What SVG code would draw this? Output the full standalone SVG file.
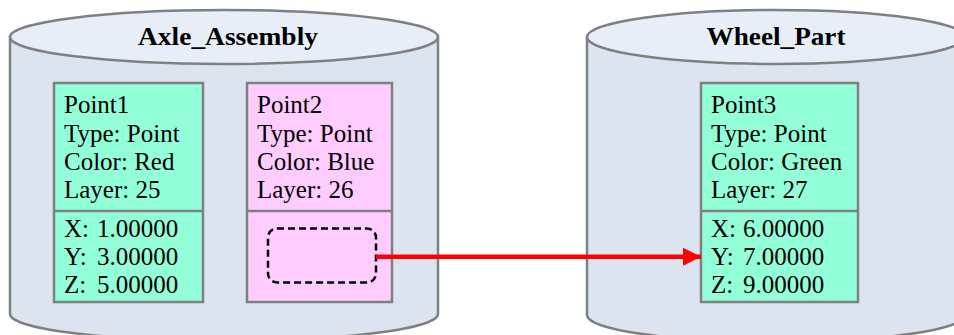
<svg xmlns="http://www.w3.org/2000/svg" width="954" height="335" viewBox="0 0 954 335">
<style>
.cyl{fill:#DCE4F0;stroke:#808080;stroke-width:2.5}
.top{fill:#E8EEF7;stroke:#808080;stroke-width:2.5}
.title{font-family:"Liberation Serif",serif;font-weight:bold;font-size:26px;fill:#000;text-anchor:middle}
.t{font-family:"Liberation Serif",serif;font-size:25px;fill:#000}
.green{fill:#92FFD8;stroke:#808080;stroke-width:2.5}
.pink{fill:#FFCCFF;stroke:#808080;stroke-width:2.5}
.div{stroke:#808080;stroke-width:2.5}
</style>
<defs>
<marker id="ah" markerWidth="18" markerHeight="18" refX="18" refY="9" orient="auto" markerUnits="userSpaceOnUse">
<path d="M0,0 L18,9 L0,18 Z" fill="#FF0000"/>
</marker>
</defs>
<rect width="954" height="335" fill="#FFFFFF"/>
<g id="Axle_Assembly">
<path class="cyl" d="M10,37 L10,314 A214,27 0 0 0 438,314 L438,37 Z"/>
<ellipse class="top" cx="224" cy="37" rx="214" ry="27"/>
<text class="title" x="228" y="45" textLength="180" lengthAdjust="spacingAndGlyphs">Axle_Assembly</text>
</g>
<g id="Wheel_Part">
<path class="cyl" d="M587,37 L587,315 A189,27 0 0 0 965,315 L965,37 Z"/>
<ellipse class="top" cx="776" cy="37" rx="189" ry="27"/>
<text class="title" x="776" y="45" textLength="139" lengthAdjust="spacingAndGlyphs">Wheel_Part</text>
</g>
<g id="Point1">
<rect class="green" x="54" y="83" width="149" height="219"/>
<line class="div" x1="54" y1="211" x2="203" y2="211"/>
<text class="t" x="64" y="113">Point1</text>
<text class="t" x="64" y="141.5">Type: Point</text>
<text class="t" x="64" y="170">Color: Red</text>
<text class="t" x="64" y="198.3">Layer: 25</text>
<text class="t" x="64" y="236.7">X:<tspan x="97">1.00000</tspan></text>
<text class="t" x="64" y="265">Y:<tspan x="97">3.00000</tspan></text>
<text class="t" x="64" y="293.3">Z:<tspan x="97">5.00000</tspan></text>
</g>
<g id="Point2">
<rect class="pink" x="247" y="83" width="145" height="219"/>
<line class="div" x1="247" y1="211" x2="392" y2="211"/>
<text class="t" x="257" y="113">Point2</text>
<text class="t" x="257" y="141.5">Type: Point</text>
<text class="t" x="257" y="170">Color: Blue</text>
<text class="t" x="257" y="198.3">Layer: 26</text>
<rect x="268" y="228.5" width="108" height="54" rx="9" fill="#FFCCFF" stroke="#000" stroke-width="2.5" stroke-dasharray="7,4"/>
</g>
<g id="Point3">
<rect class="green" x="701" y="83" width="157" height="219"/>
<line class="div" x1="701" y1="211" x2="858" y2="211"/>
<text class="t" x="711" y="113">Point3</text>
<text class="t" x="711" y="141.5">Type: Point</text>
<text class="t" x="711" y="170">Color: Green</text>
<text class="t" x="711" y="198.3">Layer: 27</text>
<text class="t" x="711" y="236.7">X:<tspan x="743">6.00000</tspan></text>
<text class="t" x="711" y="265">Y:<tspan x="743">7.00000</tspan></text>
<text class="t" x="711" y="293.3">Z:<tspan x="743">9.00000</tspan></text>
</g>
<g id="connectors">
<line x1="376" y1="256.7" x2="701" y2="256.7" stroke="#FF0000" stroke-width="4.5" marker-end="url(#ah)"/>
</g>
</svg>
